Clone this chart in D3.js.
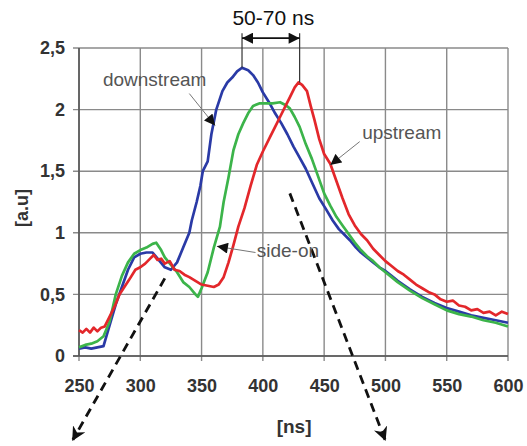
<!DOCTYPE html>
<html>
<head>
<meta charset="utf-8">
<script src="https://cdn.jsdelivr.net/npm/d3@7"></script>
<style>
  body { margin: 0; background: #fff; }
  svg { display: block; font-family: "Liberation Sans", Arial, sans-serif; }
</style>
</head>
<body>
<div id="chart"></div>
<script>
/* Time-of-flight signals: downstream / side-on / upstream */

const xTicks = [250, 300, 350, 400, 450, 500, 550, 600];
const yTicks = [0, 0.5, 1, 1.5, 2, 2.5];
const yTickLabels = ["0", "0,5", "1", "1,5", "2", "2,5"];

// [ns, a.u]
const downstream = [
  [250,0.06],[255,0.07],[260,0.06],[265,0.07],[270,0.08],[275,0.25],[280,0.42],[285,0.56],
  [290,0.70],[295,0.80],[300,0.83],[305,0.84],[310,0.84],[315,0.78],[320,0.72],[325,0.70],
  [330,0.76],[335,0.88],[340,1.00],[342,1.10],[346,1.25],[349,1.38],[351,1.50],[355,1.58],
  [358,1.80],[362,2.00],[367,2.15],[371,2.22],[375,2.26],[379,2.31],[383,2.34],[388,2.32],
  [392,2.28],[396,2.22],[400,2.14],[405,2.06],[410,1.97],[415,1.89],[420,1.80],[425,1.70],
  [430,1.61],[435,1.52],[440,1.41],[446,1.28],[451,1.20],[457,1.10],[462,1.03],[466,0.99],
  [471,0.94],[476,0.88],[480,0.84],[485,0.80],[490,0.76],[495,0.72],[500,0.69],[505,0.65],
  [510,0.61],[520,0.54],[530,0.48],[540,0.43],[550,0.39],[560,0.36],[570,0.33],[580,0.31],
  [590,0.29],[600,0.27]
];

const sideOn = [
  [250,0.07],[255,0.09],[260,0.10],[265,0.12],[270,0.16],[275,0.28],[280,0.50],[285,0.65],
  [290,0.76],[295,0.83],[300,0.86],[305,0.88],[310,0.91],[313,0.92],[317,0.86],[320,0.80],
  [325,0.74],[330,0.68],[335,0.60],[340,0.56],[345,0.50],[347,0.48],[350,0.55],[355,0.68],
  [360,0.88],[365,1.05],[368,1.25],[372,1.45],[376,1.67],[380,1.80],[384,1.89],[388,1.97],
  [392,2.03],[397,2.05],[403,2.05],[408,2.05],[414,2.06],[418,2.04],[422,2.01],[426,1.94],
  [430,1.86],[435,1.72],[440,1.60],[445,1.46],[450,1.32],[455,1.22],[460,1.13],[465,1.06],
  [470,0.99],[475,0.92],[480,0.86],[485,0.81],[490,0.77],[495,0.72],[500,0.68],[505,0.64],
  [510,0.60],[520,0.53],[530,0.47],[540,0.42],[550,0.37],[560,0.34],[570,0.32],[580,0.29],
  [590,0.27],[600,0.24]
];

const upstream = [
  [250,0.21],[253,0.19],[256,0.22],[259,0.19],[262,0.23],[265,0.20],[268,0.23],[271,0.24],
  [275,0.32],[279,0.40],[283,0.50],[287,0.56],[291,0.62],[296,0.70],[300,0.72],[304,0.75],
  [308,0.79],[311,0.82],[314,0.78],[317,0.79],[320,0.75],[324,0.77],[328,0.70],[332,0.69],
  [336,0.66],[340,0.64],[345,0.61],[350,0.58],[355,0.57],[360,0.56],[364,0.58],[368,0.64],
  [372,0.76],[376,0.90],[380,1.05],[385,1.20],[390,1.38],[395,1.55],[400,1.66],[406,1.78],
  [410,1.86],[414,1.94],[418,2.02],[422,2.10],[426,2.18],[429,2.22],[432,2.20],[436,2.15],
  [439,2.03],[442,1.92],[446,1.76],[450,1.64],[455,1.56],[460,1.42],[465,1.28],[470,1.15],
  [475,1.06],[480,0.99],[485,0.94],[490,0.87],[495,0.82],[500,0.77],[505,0.73],[510,0.69],
  [515,0.66],[520,0.62],[525,0.58],[530,0.55],[535,0.52],[540,0.50],[545,0.46],[550,0.44],
  [555,0.45],[560,0.41],[565,0.40],[570,0.37],[575,0.38],[580,0.35],[585,0.36],[590,0.33],
  [595,0.36],[600,0.34]
];

const series = [
  {name: "downstream", data: downstream, color: "#2a3aa6"},
  {name: "side-on", data: sideOn, color: "#3cb44a"},
  {name: "upstream", data: upstream, color: "#e3272b"}
];

// labels: text anchor point, leader start, arrow tip  (all in data units)
const labels = [
  {text: "downstream", at: [269.5, 2.19], from: [340, 2.13], to: [361, 1.87]},
  {text: "upstream", at: [481, 1.76], from: [479, 1.74], to: [455, 1.55]},
  {text: "side-on", at: [395, 0.80], from: [394, 0.84], to: [362.5, 0.89]}
];

const peakDown = 383, peakUp = 430;
const spanLabel = "50-70 ns";

const width = 527, height = 446,
      margin = ({top: 48, right: 19, bottom: 90, left: 79});

const svg = d3.select("#chart")
  .append("svg")
  .attr("width", width)
  .attr("height", height)
  .attr("viewBox", [0, 0, width, height]);

const x = d3.scaleLinear()
  .domain([250, 600])
  .range([margin.left, width - margin.right]);

const y = d3.scaleLinear()
  .domain([0, 2.5])
  .range([height - margin.bottom, margin.top]);

const defs = svg.append("defs");
defs.append("marker")
  .attr("id", "tri")
  .attr("viewBox", "0 0 10 10")
  .attr("refX", 10).attr("refY", 5)
  .attr("markerWidth", 12).attr("markerHeight", 11)
  .attr("markerUnits", "userSpaceOnUse")
  .attr("orient", "auto-start-reverse")
  .append("path")
  .attr("d", "M0,0L10,5L0,10z")
  .attr("fill", "#111");
defs.append("marker")
  .attr("id", "big")
  .attr("viewBox", "0 0 10 10")
  .attr("refX", 9).attr("refY", 5)
  .attr("markerWidth", 14).attr("markerHeight", 14)
  .attr("markerUnits", "userSpaceOnUse")
  .attr("orient", "auto")
  .append("path")
  .attr("d", "M0,0L10,5L0,10L3,5z")
  .attr("fill", "#111");

// grid
svg.append("g")
  .selectAll("line")
  .data(xTicks)
  .join("line")
  .attr("x1", d => x(d)).attr("x2", d => x(d))
  .attr("y1", y(2.5)).attr("y2", y(0) + 5)
  .attr("stroke", "#8a8a8a").attr("stroke-width", 1.4);

svg.append("g")
  .selectAll("line")
  .data(yTicks)
  .join("line")
  .attr("x1", x(250) - 6).attr("x2", x(600))
  .attr("y1", d => y(d)).attr("y2", d => y(d))
  .attr("stroke", "#8a8a8a").attr("stroke-width", 1.4);

svg.append("line")
  .attr("x1", x(250)).attr("x2", x(250))
  .attr("y1", y(2.5)).attr("y2", y(0))
  .attr("stroke", "#555").attr("stroke-width", 1.6);
svg.append("line")
  .attr("x1", x(250) - 6).attr("x2", x(600))
  .attr("y1", y(0)).attr("y2", y(0))
  .attr("stroke", "#555").attr("stroke-width", 1.6);

// tick labels
const xAxis = g => g
  .attr("transform", `translate(0,${y(0)})`)
  .call(d3.axisBottom(x).tickValues(xTicks).tickSize(0).tickPadding(23))
  .call(g => g.select(".domain").remove());

const yAxis = g => g
  .attr("transform", `translate(${x(250)},0)`)
  .call(d3.axisLeft(y).tickValues(yTicks).tickSize(0).tickPadding(14)
        .tickFormat((d, i) => yTickLabels[i]))
  .call(g => g.select(".domain").remove());

svg.append("g").call(xAxis);
svg.append("g").call(yAxis);

svg.selectAll(".tick text")
  .attr("font-family", "Liberation Sans, Arial, sans-serif")
  .attr("font-size", 18)
  .attr("font-weight", "bold")
  .attr("fill", "#333");

// axis titles
svg.append("text")
  .attr("transform", `translate(28,${(y(0) + y(2.5)) / 2 + 6}) rotate(-90)`)
  .attr("text-anchor", "middle")
  .attr("font-size", 18).attr("font-weight", "bold").attr("fill", "#333")
  .text("[a.u]");

svg.append("text")
  .attr("x", x(425.5)).attr("y", 433)
  .attr("text-anchor", "middle")
  .attr("font-size", 19).attr("font-weight", "bold").attr("fill", "#333")
  .text("[ns]");

// series
const line = d3.line()
  .x(d => x(d[0]))
  .y(d => y(d[1]));

svg.append("g")
  .selectAll("path")
  .data(series)
  .join("path")
  .attr("d", d => line(d.data))
  .attr("fill", "none")
  .attr("stroke", d => d.color)
  .attr("stroke-width", 2.7)
  .attr("stroke-linejoin", "round");

// dashed arrows
const dashed = [
  [[320, 0.63], [245, -0.68]],
  [[422, 1.32], [499.7, -0.68]]
];
svg.append("g")
  .selectAll("path")
  .data(dashed)
  .join("path")
  .attr("d", d => line(d))
  .attr("fill", "none")
  .attr("stroke", "#111")
  .attr("stroke-width", 2.8)
  .attr("stroke-dasharray", "9,6")
  .attr("marker-end", "url(#big)");

// curve labels with leaders
const lab = svg.append("g");
lab.selectAll("line")
  .data(labels)
  .join("line")
  .attr("x1", d => x(d.from[0])).attr("y1", d => y(d.from[1]))
  .attr("x2", d => x(d.to[0])).attr("y2", d => y(d.to[1]))
  .attr("stroke", "#777").attr("stroke-width", 1)
  .attr("marker-end", "url(#tri)");
lab.selectAll("text")
  .data(labels)
  .join("text")
  .attr("x", d => x(d.at[0])).attr("y", d => y(d.at[1]))
  .attr("font-size", 19)
  .attr("fill", "#555")
  .text(d => d.text);

// peak separation
const topY = y(2.62), arrY = y(2.58);
const peakVal = (data, t) => data.find(d => d[0] === t)[1];
svg.append("line")
  .attr("x1", x(peakDown)).attr("x2", x(peakDown))
  .attr("y1", topY).attr("y2", y(peakVal(downstream, peakDown)))
  .attr("stroke", "#333").attr("stroke-width", 1.2);
svg.append("line")
  .attr("x1", x(peakUp)).attr("x2", x(peakUp))
  .attr("y1", topY).attr("y2", y(2.22))
  .attr("stroke", "#333").attr("stroke-width", 1.2);
svg.append("line")
  .attr("x1", x(peakDown)).attr("x2", x(peakUp))
  .attr("y1", arrY).attr("y2", arrY)
  .attr("stroke", "#111").attr("stroke-width", 1.6)
  .attr("marker-start", "url(#tri)")
  .attr("marker-end", "url(#tri)");
svg.append("text")
  .attr("x", x(408.5)).attr("y", y(2.69))
  .attr("text-anchor", "middle")
  .attr("font-size", 21)
  .attr("fill", "#111")
  .text(spanLabel);
</script>
</body>
</html>
